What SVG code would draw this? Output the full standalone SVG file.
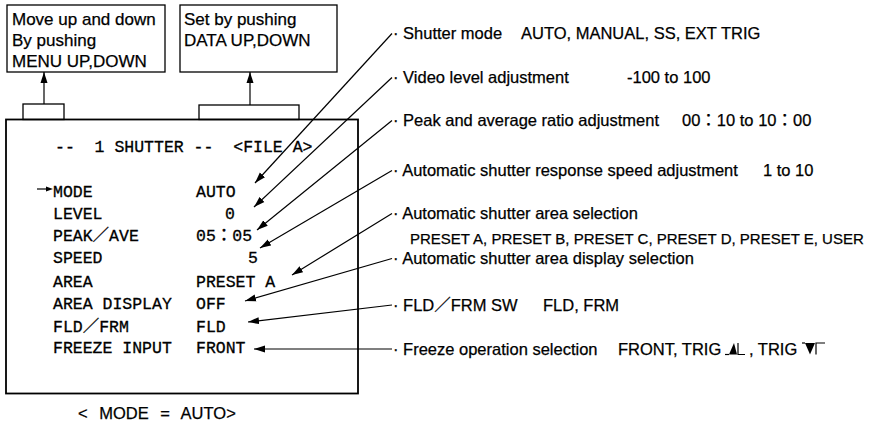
<svg xmlns="http://www.w3.org/2000/svg" width="873" height="426" viewBox="0 0 873 426">
<style>
.bx{fill:#fff;stroke:#000;stroke-width:1.3}
.mb{fill:none;stroke:#000;stroke-width:1.8}
.sans{font-family:"Liberation Sans","Noto Sans CJK JP",Arial,sans-serif;font-size:16.5px;fill:#000;stroke:#000;stroke-width:0.25}
.bt{font-size:17px}
.sm{font-size:15px}
.mono{font-family:"Liberation Mono","Noto Sans CJK JP",monospace;font-size:16.5px;fill:#000;stroke:#000;stroke-width:0.3}
.ln{fill:none;stroke:#000;stroke-width:1.2}
.lnm{fill:none;stroke:#000;stroke-width:1.2;marker-end:url(#ah)}
</style>
<defs>
<marker id="ah" markerUnits="userSpaceOnUse" markerWidth="12" markerHeight="8" refX="11" refY="4" orient="auto"><path d="M0,0.5 L11,4 L0,7.5 z" fill="#000"/></marker>
</defs>
<rect width="873" height="426" fill="#fff"/>

<g id="box-menu">
<rect class="bx" x="7" y="5" width="158" height="67"/>
<text class="sans bt" x="12" y="24.5">Move up and down</text>
<text class="sans bt" x="12" y="45.5">By pushing</text>
<text class="sans bt" x="12" y="66.5">MENU UP,DOWN</text>
</g>
<g id="box-data">
<rect class="bx" x="180" y="5" width="157" height="67"/>
<text class="sans bt" x="184" y="24.5">Set by pushing</text>
<text class="sans bt" x="184" y="45.5">DATA UP,DOWN</text>
</g>

<g id="panel">
<rect class="bx" x="23" y="104" width="41" height="15.5"/>
<rect class="bx" x="199" y="105" width="100" height="14.5"/>
<rect class="mb" x="6" y="119.5" width="352" height="274"/>
<text class="mono" x="55" y="152" xml:space="preserve">--  1 SHUTTER --  &lt;FILE A&gt;</text>
<path d="M37,189 H47" class="ln"/><path d="M46,186.5 L53,189 L46,191.5 z" fill="#000"/>
<text class="mono" x="53" y="196.5">MODE</text>
<text class="mono" x="53" y="218.5">LEVEL</text>
<text class="mono" x="53" y="241">PEAK／AVE</text>
<text class="mono" x="53" y="263">SPEED</text>
<text class="mono" x="53" y="287">AREA</text>
<text class="mono" x="53" y="309">AREA DISPLAY</text>
<text class="mono" x="53" y="331.5">FLD／FRM</text>
<text class="mono" x="53" y="353">FREEZE INPUT</text>
<text class="mono" x="196" y="196.5">AUTO</text>
<text class="mono" x="225" y="218.5">0</text>
<text class="mono" x="196" y="241">05：05</text>
<text class="mono" x="248" y="263">5</text>
<text class="mono" x="196" y="287">PRESET A</text>
<text class="mono" x="196" y="309">OFF</text>
<text class="mono" x="196" y="331.5">FLD</text>
<text class="mono" x="196" y="353">FRONT</text>
</g>
<g id="caption">
<text class="sans" x="78" y="419" style="word-spacing:7px">&lt; MODE = AUTO&gt;</text>
</g>

<g id="label-shutter-mode"><text class="sans" x="393" y="38.5">· Shutter mode<tspan x="521">AUTO, MANUAL, SS, EXT TRIG</tspan></text></g>
<g id="label-video-level"><text class="sans" x="393" y="82.5">· Video level adjustment<tspan x="627">-100 to 100</tspan></text></g>
<g id="label-peak-ave"><text class="sans" x="393" y="125.5">· Peak and average ratio adjustment<tspan x="682">00：10 to 10：00</tspan></text></g>
<g id="label-speed"><text class="sans" x="393" y="175.5">· Automatic shutter response speed adjustment<tspan x="763">1 to 10</tspan></text></g>
<g id="label-area"><text class="sans" x="393" y="218.5">· Automatic shutter area selection</text>
<text class="sans sm" x="410" y="243.5">PRESET A, PRESET B, PRESET C, PRESET D, PRESET E, USER</text></g>
<g id="label-area-display"><text class="sans" x="393" y="263.5">· Automatic shutter area display selection</text></g>
<g id="label-fld-frm"><text class="sans" x="393" y="310.5">· FLD／FRM SW<tspan x="543">FLD, FRM</tspan></text></g>
<g id="label-freeze"><text class="sans" x="393" y="354.5">· Freeze operation selection<tspan x="618">FRONT, TRIG</tspan><tspan x="749">, TRIG</tspan></text>
<path d="M725,354.5 H729" class="ln"/><path d="M729,354.5 L734,343 L737,354.5 z" fill="#000"/><path d="M738,343 V354.5 H745" class="ln"/>
<path d="M802,343 H805" class="ln"/><path d="M805,343 L815,343 L810,354.5 z" fill="#000"/><path d="M816,354.5 V343 H825" class="ln"/>
</g>

<g id="connectors">
<line class="lnm" x1="44" y1="104" x2="44" y2="72"/>
<line class="lnm" x1="250" y1="105" x2="250" y2="72"/>
<line class="lnm" x1="392" y1="33.5" x2="255" y2="183"/>
<line class="lnm" x1="392" y1="77.5" x2="254" y2="207"/>
<line class="lnm" x1="392" y1="120.5" x2="257" y2="230"/>
<line class="lnm" x1="392" y1="170.5" x2="260" y2="248"/>
<line class="lnm" x1="392" y1="213.5" x2="292" y2="275"/>
<line class="lnm" x1="392" y1="258.5" x2="245" y2="301"/>
<line class="lnm" x1="392" y1="305" x2="248" y2="322"/>
<line class="lnm" x1="392" y1="349" x2="254" y2="349"/>
</g>
</svg>
